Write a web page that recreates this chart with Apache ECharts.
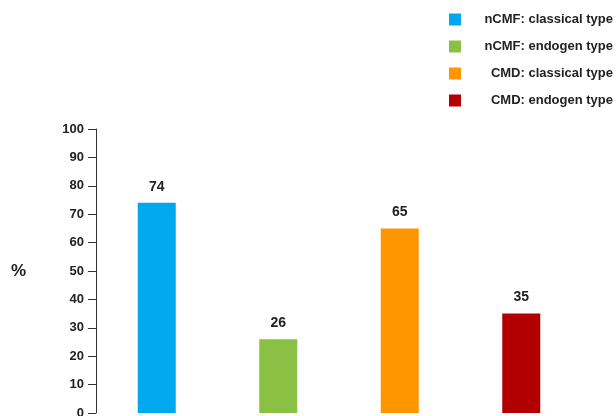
<!DOCTYPE html>
<html>
<head>
<meta charset="utf-8">
<script src="https://cdn.jsdelivr.net/npm/echarts@6/dist/echarts.min.js"></script>
<style>html,body{margin:0;padding:0;background:#fff;}#c{width:616px;height:416px;}</style>
</head>
<body>
<div id="c"></div>
<script>
var categories = ['nCMF: classical type', 'nCMF: endogen type', 'CMD: classical type', 'CMD: endogen type'];
var values = [74, 26, 65, 35];
var colors = ['#00A9EE', '#8AC044', '#FF9600', '#B20000'];
var yTicks = [0, 10, 20, 30, 40, 50, 60, 70, 80, 90, 100];

var series = categories.map(function (name, i) {
  var d = categories.map(function (c, j) { return j === i ? values[i] : '-'; });
  return {
    name: name,
    type: 'bar',
    stack: 'all',
    barWidth: 38,
    data: d,
    itemStyle: { color: colors[i] },
    label: {
      show: true,
      position: 'top',
      distance: 9,
      fontFamily: 'Liberation Sans, Arial, sans-serif',
      fontWeight: 'bold',
      fontSize: 14,
      color: '#222'
    }
  };
});

var chart = echarts.init(document.getElementById('c'), null, { renderer: 'canvas' });
chart.setOption({
  animation: false,
  backgroundColor: '#fff',
  legend: {
    orient: 'vertical',
    left: 449,
    top: 13,
    padding: 0,
    itemWidth: 12,
    itemHeight: 12,
    itemGap: 14,
    icon: 'rect',
    data: categories,
    formatter: function (n) { return '{a|' + n + '}'; },
    textStyle: {
      rich: {
        a: {
          width: 147,
          height: 15,
          align: 'right',
          fontFamily: 'Liberation Sans, Arial, sans-serif',
          fontWeight: 'bold',
          fontSize: 13,
          color: '#222'
        }
      }
    }
  },
  grid: { left: 96, right: 34, top: 129, bottom: 3, containLabel: false, outerBoundsMode: 'none' },
  xAxis: {
    type: 'category',
    data: categories,
    axisLine: { show: false },
    axisTick: { show: false },
    axisLabel: { show: false }
  },
  yAxis: {
    type: 'value',
    min: yTicks[0],
    max: yTicks[yTicks.length - 1],
    interval: 10,
    name: '%',
    nameLocation: 'middle',
    nameRotate: 0,
    nameGap: 70,
    nameTextStyle: {
      fontFamily: 'Liberation Sans, Arial, sans-serif',
      fontWeight: 'bold',
      fontSize: 17,
      color: '#222',
      padding: [0, 0, 7, 0]
    },
    axisLine: { show: true, lineStyle: { color: '#333', width: 1 } },
    axisTick: { show: true, length: 8, lineStyle: { color: '#333' } },
    splitLine: { show: false },
    axisLabel: {
      margin: 12,
      fontFamily: 'Liberation Sans, Arial, sans-serif',
      fontWeight: 'bold',
      fontSize: 13,
      color: '#222'
    }
  },
  series: series
});
</script>
</body>
</html>
